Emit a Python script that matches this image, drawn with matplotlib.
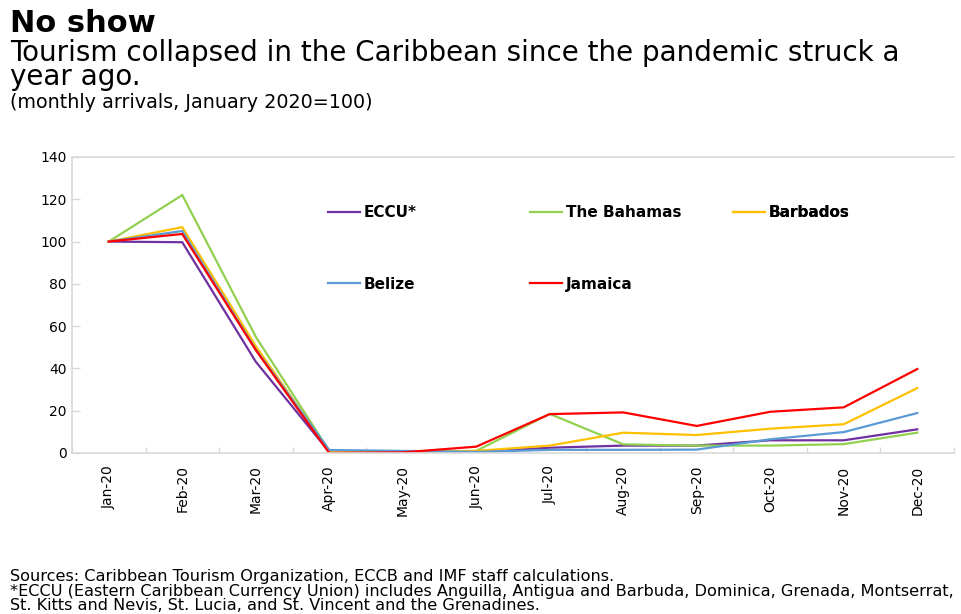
import matplotlib
matplotlib.use("Agg")
import matplotlib.pyplot as plt
import numpy as np

months = ["Jan-20", "Feb-20", "Mar-20", "Apr-20", "May-20", "Jun-20",
          "Jul-20", "Aug-20", "Sep-20", "Oct-20", "Nov-20", "Dec-20"]

eccu = [100, 99.7, 43.2, 0.5, 0.3, 0.5, 2.5, 3.5, 3.5, 6.0, 6.0, 11.2]
bahamas = [100, 122, 55, 1.0, 0.5, 1.0, 18.5, 4.1, 3.5, 3.5, 4.2, 9.6]
barbados = [100, 106.8, 50.6, 0.5, 0.3, 1.0, 3.5, 9.6, 8.5, 11.5, 13.6, 30.7]
belize = [100, 105, 49, 1.4, 1.0, 0.5, 1.5, 1.5, 1.6, 6.5, 9.9, 18.9]
jamaica = [100, 103.6, 48.7, 0.0, 0.3, 3.0, 18.4, 19.2, 12.8, 19.5, 21.6, 39.7]

series = [
    ("ECCU*", eccu, "#7030A0"),
    ("The Bahamas", bahamas, "#92D050"),
    ("Barbados", barbados, "#FFC000"),
    ("Belize", belize, "#5B9BD5"),
    ("Jamaica", jamaica, "#FF0000"),
]

plt.rcParams["font.family"] = ["DejaVu Sans"]

W, H = 961, 614
fig = plt.figure(figsize=(W / 100, H / 100), dpi=100)
ax = fig.add_axes([72 / W, 1 - 453 / H, (954 - 72) / W, (453 - 157) / H])

x = np.arange(len(months))
lines = {}
for name, vals, color in series:
    ln, = ax.plot(x, vals, color=color, lw=1.6, label=name, solid_joinstyle="miter")
    lines[name] = ln

ax.set_xlim(-0.5, len(months) - 0.5)
ax.set_ylim(0, 140)
ax.set_yticks(np.arange(0, 141, 20))
ax.tick_params(axis="y", direction="in", length=6, width=1, color="#d9d9d9",
               labelsize=10, pad=4, labelcolor="#000000")
ax.set_xticks(x)
ax.set_xticklabels(months, rotation=90, fontsize=10)
ax.tick_params(axis="x", length=0, pad=9)
ax.set_xticks(np.arange(-0.5, len(months)), minor=True)
ax.tick_params(axis="x", which="minor", direction="in", length=4, width=1, color="#d9d9d9")

for side in ["left", "bottom", "top"]:
    ax.spines[side].set_color("#d9d9d9")
    ax.spines[side].set_linewidth(1.2)
ax.spines["right"].set_visible(False)

# legend laid out as three columns of entries
cols = [
    (["ECCU*", "Belize"], 328),
    (["The Bahamas", "Jamaica"], 530),
    (["Barbados"], 733),
]
for names, px in cols:
    leg = ax.legend([lines[n] for n in names], names, loc="upper left",
                    bbox_to_anchor=(px / W, 1 - 205 / H), bbox_transform=fig.transFigure,
                    frameon=False, borderpad=0, borderaxespad=0, handlelength=2.1,
                    handletextpad=0.25, labelspacing=3.72,
                    prop={"weight": "bold", "size": 11})
    ax.add_artist(leg)

# multi-line texts are anchored on the baseline of their last line
fig.text(10 / W, 1 - 32 / H, "No show", fontsize=22, fontweight="bold", va="baseline")
fig.text(10 / W, 1 - 85 / H,
         "Tourism collapsed in the Caribbean since the pandemic struck a\nyear ago.",
         fontsize=20, va="baseline", linespacing=0.82)
fig.text(10 / W, 1 - 108 / H, "(monthly arrivals, January 2020=100)", fontsize=13.8, va="baseline")

fig.text(10 / W, 1 - 610 / H,
         "Sources: Caribbean Tourism Organization, ECCB and IMF staff calculations.\n"
         "*ECCU (Eastern Caribbean Currency Union) includes Anguilla, Antigua and Barbuda, Dominica, Grenada, Montserrat,\n"
         "St. Kitts and Nevis, St. Lucia, and St. Vincent and the Grenadines.",
         fontsize=11.6, va="baseline", linespacing=0.95)

fig.savefig("out.png", dpi=100)
